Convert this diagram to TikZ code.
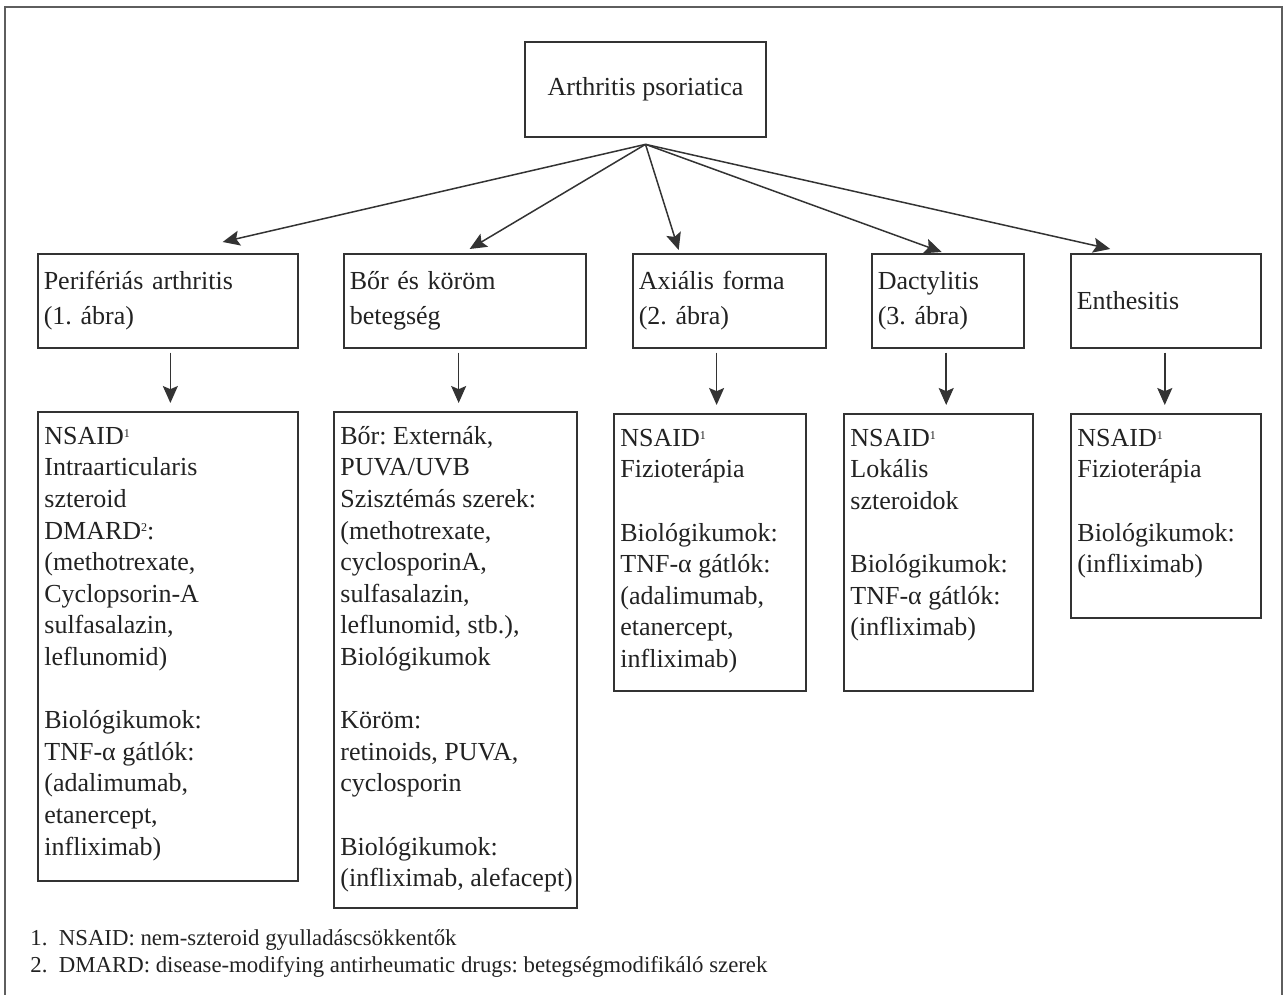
\documentclass[tikz,border=0pt]{standalone}
\usepackage{fontspec}
\setmainfont{Liberation Serif}
\usetikzlibrary{arrows.meta,calc}

\definecolor{ink}{HTML}{222222}
\definecolor{rule}{HTML}{333333}
\definecolor{framegray}{HTML}{5E5E5E}

% small footnote mark after NSAID / DMARD
\newcommand{\supnum}[1]{\raisebox{0.6ex}{\fontsize{6pt}{6pt}\selectfont #1}}
\frenchspacing

\begin{document}
\begin{tikzpicture}[x=0.5pt,y=-0.5pt,
  box/.style={draw=rule, line width=0.75pt, anchor=north west, inner sep=0pt, text=ink},
  head/.style={box, text width=#1, align=left, inner xsep=3pt, minimum height=47pt,
    font=\fontsize{13}{17.5}\selectfont},
  cell/.style 2 args={box, minimum width=#1, minimum height=#2},
  list/.style={anchor=north west, align=left, inner xsep=3.5pt, inner ysep=5.4pt, text=ink,
    font=\fontsize{13}{15.8}\selectfont},
  fan/.style={draw=rule, line width=0.75pt, -{Stealth[length=8.5pt,width=7.5pt,inset=1.6pt]}},
  down/.style={fan, shorten <=2pt, shorten >=4pt},
  note/.style={anchor=west, align=left, inner sep=0pt, text=ink,
    font=\fontsize{11.4}{13.5}\selectfont}]
\useasboundingbox (0,0) rectangle (1286,995);
\draw [framegray, line width=1.2pt] (5,1010) -- (5,7) -- (1282,7) -- (1282,1010);

% top
\node [box, anchor=center, minimum width=120.5pt, minimum height=47.5pt,
  font=\fontsize{13}{17.5}\selectfont] (top) at (645.5,89.5) {Arthritis psoriatica};
\coordinate (hub) at ([yshift=-3.3pt]top.south);

% forms
\node [head=124pt] (p1) at (37,253) {Perifériás arthritis\\(1. ábra)};
\node [head=115pt] (p2) at (343,253) {Bőr és köröm\\betegség};
\node [head=90.5pt] (p3) at (632,253) {Axiális forma\\(2. ábra)};
\node [head=70pt] (p4) at (871,253) {Dactylitis\\(3. ábra)};
\node [head=89pt] (p5) at (1070,253) {Enthesitis};

\draw [fan] (hub) -- ($(p1.north west)!.71!(p1.north east)+(0,-11)$);
\draw [fan] (hub) -- ($(p2.north west)!.52!(p2.north east)+(0,-4)$);
\draw [fan] (hub) -- ($(p3.north west)!.24!(p3.north east)+(0,-3)$);
\draw [fan] (hub) -- ($(p4.north west)!.46!(p4.north east)+(0,-1)$);
\draw [fan] (hub) -- ($(p5.north west)!.21!(p5.north east)+(0,-4)$);

% therapy
\node [cell={130pt}{234.5pt}] (t1) at (37,411) {};
\node [cell={121.5pt}{248pt}] (t2) at (333,411) {};
\node [cell={96pt}{138.5pt}] (t3) at (613,413) {};
\node [cell={94.5pt}{138.5pt}] (t4) at (843,413) {};
\node [cell={95pt}{102pt}] (t5) at (1070,413) {};

\node [list] (l1) at (t1.north west) {\strut NSAID\supnum{1}\\Intraarticularis\\szteroid\\
  DMARD\supnum{2}:\\(methotrexate,\\Cyclopsorin-A\\sulfasalazin,\\leflunomid)\\[15.8pt]
  Biológikumok:\\TNF-α gátlók:\\(adalimumab,\\etanercept,\\infliximab)};
\node [list] (l2) at (t2.north west) {\strut Bőr: Externák,\\PUVA/UVB\\Szisztémás szerek:\\
  (methotrexate,\\cyclosporinA,\\sulfasalazin,\\leflunomid, stb.),\\Biológikumok\\[15.8pt]
  Köröm:\\retinoids, PUVA,\\cyclosporin\\[15.8pt]
  Biológikumok:\\(infliximab, alefacept)};
\node [list] (l3) at (t3.north west) {\strut NSAID\supnum{1}\\Fizioterápia\\[15.8pt]
  Biológikumok:\\TNF-α gátlók:\\(adalimumab,\\etanercept,\\infliximab)};
\node [list] (l4) at (t4.north west) {\strut NSAID\supnum{1}\\Lokális\\szteroidok\\[15.8pt]
  Biológikumok:\\TNF-α gátlók:\\(infliximab)};
\node [list] (l5) at (t5.north west) {\strut NSAID\supnum{1}\\Fizioterápia\\[15.8pt]
  Biológikumok:\\(infliximab)};

\draw [down] ($(p1.south west)!.51!(p1.south east)$) coordinate (d1) -- (d1 |- t1.north);
\draw [down] ($(p2.south west)!.475!(p2.south east)$) coordinate (d2) -- (d2 |- t2.north);
\draw [down] ($(p3.south west)!.435!(p3.south east)$) coordinate (d3) -- (d3 |- t3.north);
\draw [down] ($(p4.south west)!.49!(p4.south east)$) coordinate (d4) -- (d4 |- t4.north);
\draw [down] ($(p5.south west)!.495!(p5.south east)$) coordinate (d5) -- (d5 |- t5.north);

% footnotes
\node [note] (fn) at (30,953.5) {1.\enspace NSAID: nem-szteroid gyulladáscsökkentők\\
  2.\enspace DMARD: disease-modifying antirheumatic drugs: betegségmodifikáló szerek};
\end{tikzpicture}
\end{document}
